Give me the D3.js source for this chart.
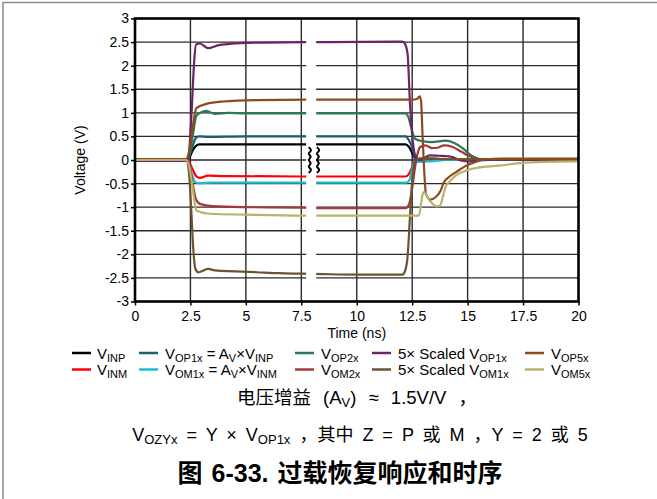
<!DOCTYPE html>
<html>
<head>
<meta charset="utf-8">
<script src="https://cdn.jsdelivr.net/npm/d3@7"></script>
<style>
  body { margin: 0; background: #fff; }
  svg { display: block; }
  text { font-family: "Liberation Sans", Arial, "Noto Sans CJK SC", sans-serif; fill: #000; }
</style>
</head>
<body>
<svg></svg>
<script>
// tick values
const xTicks = [0, 2.5, 5, 7.5, 10, 12.5, 15, 17.5, 20];
const yTicks = [-3, -2.5, -2, -1.5, -1, -0.5, 0, 0.5, 1, 1.5, 2, 2.5, 3];

// series, [time (ns), voltage (V)]
const vINP = [[0,0],[2.3,0],[2.45,0.05],[2.6,0.2],[2.75,0.3],[2.9,0.33],[3.5,0.33],[7.5,0.33],[8.5,0.33],[12.2,0.33],[12.35,0.28],[12.5,0.15],[12.65,0.02],[12.8,0],[20,0]];
const vINM = [[0,0],[2.3,0],[2.45,-0.05],[2.6,-0.2],[2.77,-0.35],[2.92,-0.38],[3.3,-0.33],[4,-0.34],[7.5,-0.35],[8.5,-0.35],[12.2,-0.35],[12.35,-0.3],[12.5,-0.15],[12.62,-0.03],[12.8,0],[20,0]];
const vOP1x = [[0,0],[2.3,0],[2.45,0.08],[2.6,0.3],[2.75,0.47],[2.9,0.5],[3.3,0.49],[5,0.5],[7.5,0.5],[8.5,0.5],[12.2,0.5],[12.35,0.42],[12.5,0.27],[12.65,0.03],[12.8,0],[13.0,0.03],[13.5,0.03],[14,0.01],[20,0]];
const vOM1x = [[0,0],[2.3,0],[2.45,-0.1],[2.6,-0.35],[2.72,-0.47],[2.85,-0.49],[3.5,-0.48],[7.5,-0.48],[8.5,-0.48],[12.25,-0.48],[12.38,-0.42],[12.5,-0.2],[12.6,-0.06],[12.75,-0.04],[13.2,-0.03],[13.6,-0.02],[14,0],[20,0]];
const vOP2x = [[0,0],[2.3,0],[2.45,0.1],[2.6,0.5],[2.77,0.94],[2.95,1.0],[3.22,1.04],[3.6,0.98],[4.2,1.0],[5,0.99],[7.5,0.99],[8.5,0.99],[12.2,0.99],[12.32,0.92],[12.45,0.7],[12.63,0.45],[12.95,0.4],[13.4,0.38],[14.0,0.41],[14.4,0.36],[14.8,0.24],[15.1,0.12],[15.4,0.04],[15.7,0],[20,0]];
const vOM2x = [[0,0],[2.3,0],[2.45,-0.1],[2.6,-0.5],[2.75,-0.83],[2.92,-0.93],[3.5,-0.98],[5,-1.0],[7.5,-1.01],[8.5,-1.02],[12.2,-1.02],[12.35,-0.95],[12.5,-0.6],[12.63,-0.15],[12.75,0.15],[12.85,0.27],[13.1,0.31],[13.4,0.25],[13.65,0.26],[13.95,0.31],[14.3,0.28],[14.7,0.18],[15.0,0.1],[15.3,0.04],[15.6,0],[20,0]];
const vOP1x5 = [[0,-0.02],[2.3,-0.02],[2.42,0.1],[2.55,1.0],[2.67,2.1],[2.75,2.45],[2.92,2.47],[3.3,2.37],[3.73,2.43],[4.27,2.46],[5.76,2.49],[7.7,2.5],[8.5,2.5],[12.05,2.51],[12.15,2.48],[12.29,2.26],[12.4,1.2],[12.51,0.48],[12.62,0.12],[12.75,0.02],[12.9,0],[13.1,0.06],[13.3,0.1],[13.7,0.09],[14.1,0.08],[14.35,0.06],[14.6,0],[15.0,-0.03],[15.5,-0.01],[16,0],[20,0]];
const vOM1x5 = [[0,0.02],[2.3,0.02],[2.42,-0.2],[2.53,-1.0],[2.63,-1.9],[2.72,-2.3],[2.85,-2.38],[3.0,-2.36],[3.3,-2.31],[3.6,-2.34],[4.5,-2.36],[5.5,-2.38],[6.5,-2.4],[7.5,-2.41],[8.5,-2.42],[10,-2.43],[12.06,-2.43],[12.18,-2.35],[12.29,-2.06],[12.4,-1.2],[12.49,-0.5],[12.58,-0.12],[12.68,0.01],[13.0,0.04],[13.5,0.03],[14,0.02],[15,0.02],[20,0.02]];
const vOP5x = [[0,0.02],[2.3,0.02],[2.45,0.2],[2.6,0.7],[2.77,1.1],[3.22,1.19],[3.97,1.24],[5.47,1.27],[7.7,1.28],[8.5,1.28],[12.5,1.28],[12.73,1.3],[12.84,1.35],[12.9,1.25],[12.97,0.5],[13.05,-0.3],[13.12,-0.72],[13.33,-0.84],[13.55,-0.79],[13.78,-0.65],[13.93,-0.47],[14.16,-0.36],[14.5,-0.25],[14.9,-0.13],[15.36,-0.04],[15.8,0.01],[16.5,0.03],[20,0.03]];
const vOM5x = [[0,0],[2.3,0],[2.45,-0.15],[2.6,-0.6],[2.77,-1.07],[3.0,-1.11],[3.37,-1.14],[5,-1.16],[7.5,-1.18],[8.5,-1.18],[12.5,-1.18],[12.8,-1.18],[12.88,-1.0],[12.96,-0.75],[13.03,-0.68],[13.2,-0.8],[13.4,-0.92],[13.6,-0.98],[13.75,-0.97],[13.87,-0.8],[14.0,-0.58],[14.2,-0.45],[14.46,-0.33],[14.9,-0.23],[15.36,-0.17],[16.4,-0.12],[17.5,-0.06],[18.5,-0.04],[20,-0.03]];

const seriesNames = ['VINP', 'VINM', 'VOP1x', 'VOM1x', 'VOP2x', 'VOM2x', '5xVOP1x', '5xVOM1x', 'VOP5x', 'VOM5x'];
const seriesData = [vINP, vINM, vOP1x, vOM1x, vOP2x, vOM2x, vOP1x5, vOM1x5, vOP5x, vOM5x];
const seriesColors = ['#000000', '#ff0000', '#1d5d72', '#1bbccd', '#2b7a52', '#a23a3c', '#6b2466', '#6b5430', '#8e4a1e', '#b7b36b'];

// legend labels: [text, isSubscript] pieces
const legendLabels = [
  [['V'], ['INP', 1]],
  [['V'], ['INM', 1]],
  [['V'], ['OP1x', 1], [' = A'], ['V', 1], ['\u00d7V'], ['INP', 1]],
  [['V'], ['OM1x', 1], [' = A'], ['V', 1], ['\u00d7V'], ['INM', 1]],
  [['V'], ['OP2x', 1]],
  [['V'], ['OM2x', 1]],
  [['5\u00d7 Scaled V'], ['OP1x', 1]],
  [['5\u00d7 Scaled V'], ['OM1x', 1]],
  [['V'], ['OP5x', 1]],
  [['V'], ['OM5x', 1]]
];

const size = {w: 657, h: 499};
const plot = {l: 135, r: 578.5, t: 18.5, b: 301.5};
const svg = d3.select('svg').attr('width', size.w).attr('height', size.h);

const x = d3.scaleLinear().domain([0, 20]).range([plot.l, plot.r]);
const y = d3.scaleLinear().domain([-3, 3]).range([plot.b, plot.t]);

// outer figure frame (top and left only are visible)
svg.append('path')
    .attr('d', `M3,${size.h} V2.5 H${size.w}`)
    .attr('fill', 'none')
    .attr('stroke', '#8a8a8a')
    .attr('stroke-width', 1.5);

// grid
const gridG = svg.append('g').attr('stroke', '#2a2a2a').attr('stroke-width', 1.4);
gridG.selectAll('.gx')
    .data(xTicks.slice(1, -1))
    .enter().append('line')
    .attr('x1', d => x(d)).attr('x2', d => x(d))
    .attr('y1', plot.t).attr('y2', plot.b);
gridG.selectAll('.gy')
    .data(yTicks.slice(1, -1))
    .enter().append('line')
    .attr('x1', plot.l).attr('x2', plot.r)
    .attr('y1', d => y(d)).attr('y2', d => y(d));

// curves
const line = d3.line()
    .x(d => x(d[0]))
    .y(d => y(d[1]))
    .curve(d3.curveMonotoneX);

svg.append('g').selectAll('path')
    .data(seriesData)
    .enter().append('path')
    .attr('d', d => line(d))
    .attr('fill', 'none')
    .attr('stroke', (d, i) => seriesColors[i])
    .attr('stroke-width', 2.2)
    .attr('stroke-linejoin', 'round');

// time-axis break
svg.append('rect')
    .attr('x', x(7.72)).attr('width', x(8.17) - x(7.72))
    .attr('y', plot.t).attr('height', plot.b - plot.t)
    .attr('fill', '#fff');

const wave = d3.line().curve(d3.curveBasis);
[7.88, 8.25].forEach(t => {
    const cx = x(t);
    const pts = d3.range(0, 9).map(k => [cx + (k % 2 ? 2.8 : -2.8) * (k > 0 && k < 8 ? 1 : 0.4), y(0.27) + k * 3.2]);
    svg.append('path')
        .attr('d', wave(pts))
        .attr('fill', 'none')
        .attr('stroke', '#000')
        .attr('stroke-width', 2);
});

// axes
const axisFont = '14px';
const xAxis = svg.append('g')
    .attr('transform', `translate(0,${plot.b})`)
    .call(d3.axisBottom(x).tickValues(xTicks).tickSize(4).tickFormat(d => String(d)));
const yAxis = svg.append('g')
    .attr('transform', `translate(${plot.l},0)`)
    .call(d3.axisLeft(y).tickValues(yTicks).tickSize(4).tickFormat(d => String(d)));
[xAxis, yAxis].forEach(g => {
    g.select('.domain').remove();
    g.selectAll('line').attr('stroke', '#000').attr('stroke-width', 1.5);
    g.selectAll('text').attr('font-size', axisFont).attr('font-family', null).attr('fill', '#000');
});
xAxis.selectAll('text').attr('dy', '0.9em');
yAxis.selectAll('text').attr('x', -6);

// plot frame
svg.append('rect')
    .attr('x', plot.l).attr('y', plot.t)
    .attr('width', plot.r - plot.l).attr('height', plot.b - plot.t)
    .attr('fill', 'none').attr('stroke', '#000').attr('stroke-width', 2.6);

svg.append('text')
    .attr('x', (plot.l + plot.r) / 2).attr('y', 338)
    .attr('text-anchor', 'middle').attr('font-size', '14px')
    .text('Time (ns)');
svg.append('text')
    .attr('transform', `translate(85,${y(0)}) rotate(-90)`)
    .attr('text-anchor', 'middle').attr('font-size', '14px')
    .text('Voltage (V)');

// rich text helper: pieces of [text, isSub]
function richText(sel, pieces, fs, subFs, shift) {
    let down = false;
    pieces.forEach(p => {
        const ts = sel.append('tspan').text(p[0]);
        if (p[1] && !down) { ts.attr('dy', shift).attr('font-size', subFs); down = true; }
        else if (p[1]) { ts.attr('font-size', subFs); }
        else if (down) { ts.attr('dy', -shift).attr('font-size', fs); down = false; }
        else { ts.attr('font-size', fs); }
    });
}

// legend
const legCols = [{lx: 72, tx: 97}, {lx: 139, tx: 165}, {lx: 295, tx: 321}, {lx: 372, tx: 398}, {lx: 525, tx: 551}];
const legRows = [353, 369.5];
const legG = svg.append('g');
seriesNames.forEach((n, i) => {
    const c = legCols[Math.floor(i / 2)];
    const ry = legRows[i % 2];
    legG.append('line')
        .attr('x1', c.lx).attr('x2', c.lx + 19)
        .attr('y1', ry).attr('y2', ry)
        .attr('stroke', seriesColors[i]).attr('stroke-width', 2.5);
    const t = legG.append('text').attr('x', c.tx).attr('y', ry + 5.5);
    richText(t, legendLabels[i], 15, 11, 3);
});

// captions
const cap1 = svg.append('text').attr('x', 357).attr('y', 404)
    .attr('text-anchor', 'middle').attr('word-spacing', 7);
richText(cap1, [['电压增益 (A'], ['V', 1], [') \u2248 1.5V/V ，']], 18.5, 13, 3);

const cap2 = svg.append('text').attr('x', 360).attr('y', 441)
    .attr('text-anchor', 'middle').attr('word-spacing', 4);
richText(cap2, [['V'], ['OZYx', 1], [' = Y \u00d7 V'], ['OP1x', 1], [' ，其中 Z = P 或 M ，Y = 2 或 5']], 18, 13, 3);

svg.append('text')
    .attr('x', 340).attr('y', 482)
    .attr('text-anchor', 'middle').attr('word-spacing', 2)
    .attr('font-size', '25px').attr('font-weight', 'bold')
    .text('图 6-33. 过载恢复响应和时序');
</script>
</body>
</html>
